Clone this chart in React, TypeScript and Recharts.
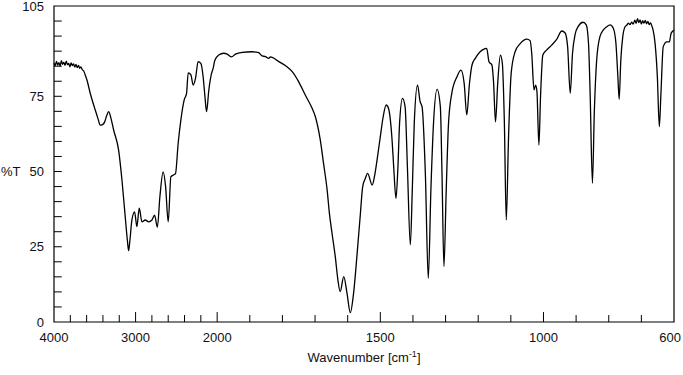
import React from 'react';
import { LineChart, Line, XAxis, YAxis, ReferenceLine, ReferenceArea, Label } from 'recharts';

// spectrum, wavenumber [cm-1] and %T
const wavenumbers = [
  4000, 3985, 3970, 3955, 3940, 3925, 3910, 3895, 3880, 3865, 3850, 3835, 3820, 3805, 3790, 3775,
  3760, 3745, 3730, 3715, 3700, 3685, 3670, 3655, 3636, 3616, 3596, 3556, 3494, 3460, 3433, 3405,
  3379, 3355, 3330, 3300, 3269, 3208, 3167, 3127, 3100, 3085, 3070, 3045, 3012, 2984, 2955, 2922,
  2882, 2840, 2800, 2767, 2733, 2702, 2662, 2632, 2600, 2567, 2539, 2510, 2478, 2445, 2404, 2375,
  2355, 2322, 2294, 2265, 2233, 2200, 2172, 2150, 2130, 2102, 2069, 2049, 2028, 1995, 1980, 1969,
  1956, 1944, 1923, 1893, 1873, 1862, 1852, 1842, 1837, 1811, 1786, 1770, 1750, 1730, 1709, 1699,
  1684, 1674, 1663, 1656, 1648, 1638, 1630, 1623, 1612, 1602, 1592, 1582, 1571, 1561, 1554, 1546,
  1539, 1525, 1518, 1510, 1500, 1492, 1482, 1475, 1464, 1459, 1452, 1446, 1441, 1432, 1424, 1417,
  1408, 1402, 1396, 1386, 1378, 1372, 1362, 1353, 1345, 1337, 1326, 1316, 1311, 1305, 1298, 1291,
  1281, 1265, 1253, 1243, 1235, 1227, 1219, 1209, 1194, 1184, 1174, 1167, 1158, 1153, 1147, 1140,
  1132, 1126, 1120, 1114, 1107, 1099, 1087, 1072, 1051, 1041, 1036, 1029, 1024, 1020, 1014, 1009,
  1002, 990, 975, 959, 944, 934, 926, 918, 911, 903, 893, 879, 869, 862, 857, 850,
  844, 837, 827, 817, 806, 796, 786, 778, 772, 768, 763, 757, 750, 745, 740, 735,
  730, 725, 720, 716, 712, 708, 704, 700, 696, 692, 688, 684, 680, 676, 672, 668,
  664, 658, 651, 645, 640, 633, 622, 614, 609, 600,
];

const transmittance = [
  86, 85.2, 86.6, 85.4, 86.2, 85, 86.8, 85.6, 86.3, 85.3, 86.7, 85.5, 85.9, 84.8, 86.1, 85.2,
  85.8, 84.7, 85.6, 84.5, 85.3, 84.3, 84.8, 83.9, 83.4, 82, 80.4, 76, 70.4, 67.5, 65.4, 65.6,
  66.5, 68.5, 69.9, 67.5, 63.8, 57.1, 47.2, 35, 27, 23.7, 27, 33.9, 36.6, 31.7, 37.8, 33.3,
  33.9, 33.3, 33.9, 35.5, 31.5, 41.6, 49.9, 45, 33.3, 48.3, 48.8, 49.4, 59.4, 67.1, 73.8, 76,
  82.8, 82.1, 78.7, 81, 86.5, 85.9, 81.5, 75, 69.9, 77.1, 82.6, 84.3, 87, 88.7, 89.3, 89,
  88.1, 89, 89.6, 89.8, 89.5, 88.4, 88.2, 87.6, 88.1, 86.5, 84.8, 83.2, 79.8, 75.4, 71, 68.2,
  60.5, 52.7, 43.9, 36.1, 29.5, 21.7, 14, 10.1, 15.1, 9.5, 3.1, 9.5, 22.8, 36.1, 45, 47.7,
  49.4, 45.5, 48.3, 53.8, 61.6, 67.7, 72.1, 71, 60.5, 51.6, 41.1, 51.6, 66, 74.3, 71.5, 51.6,
  25.6, 43.9, 66, 78.7, 73.2, 71.5, 49.4, 14.5, 43.9, 66, 77.3, 71.5, 49.4, 18.4, 43.9, 66,
  76, 81.5, 83.7, 79.3, 68.8, 79, 85.4, 87.6, 89.8, 90.6, 90.9, 86.5, 85.4, 79.8, 66.5, 79.8,
  88.7, 85.9, 67.1, 33.9, 61.6, 82.6, 89.8, 92.4, 94, 93.5, 89.3, 77.1, 78.7, 76.5, 58.8, 74.9,
  88.7, 90.4, 92, 94, 96.7, 96.1, 91.5, 76, 89.3, 95.6, 98.3, 99.6, 98.7, 92.6, 76, 46.1,
  70.4, 87, 94.8, 97, 98.1, 98.7, 97.6, 92.6, 81.5, 74, 87, 94.8, 98.1, 98.6, 99.3, 98.8,
  99.6, 99, 100.3, 99.2, 100.8, 99.5, 100.4, 99, 100.1, 99.3, 100.2, 99.1, 99.9, 98.8, 99.4, 98.4,
  97, 92.6, 81.5, 64.9, 76, 91.5, 93.1, 93.1, 95.9, 97,
];

const xLabelTicks = [4000, 3000, 2000, 1500, 1000, 600];
const xMajorMarks = [3000, 2000, 1500, 1000];
const xMinorMarks = [
  3800, 3600, 3400, 3200, 2800, 2600, 2400, 2200,
  1900, 1800, 1700, 1600, 1400, 1300, 1200, 1100, 900, 800, 700,
];
const yLabelTicks = [0, 25, 50, 75, 105];
const yMarks = [5, 10, 15, 20, 25, 30, 35, 40, 45, 50, 55, 60, 65, 70, 75, 80, 85, 90, 95, 100];

// the axis is stretched 4x below 2000 cm-1
const toPos = (w: number) => (w >= 2000 ? 4000 - w : 2000 + 4 * (2000 - w));
const fromPos = (u: number) => (u <= 2000 ? 4000 - u : 2000 - (u - 2000) / 4);
const X_END = toPos(600);

const data = wavenumbers.map((w, i) => ({ pos: toPos(w), t: transmittance[i] }));

const FONT = '"Liberation Sans", Arial, sans-serif';
const INK = '#111';

const XTick = ({ x, y, payload }: any) => {
  const last = payload.value === X_END;
  return (
    <text
      x={last ? x + 7 : x}
      y={y}
      dy="0.71em"
      textAnchor={last ? 'end' : 'middle'}
      fontFamily={FONT}
      fontSize={13}
      fill={INK}
    >
      {Math.round(fromPos(payload.value))}
    </text>
  );
};

const XTitle = ({ viewBox }: any) => (
  <text
    x={viewBox.x + viewBox.width / 2}
    y={viewBox.y + 40}
    textAnchor="middle"
    fontFamily={FONT}
    fontSize={13}
    fill={INK}
  >
    Wavenumber [cm
    <tspan fontSize={9} dy={-5}>-1</tspan>
    <tspan dy={5}>]</tspan>
  </text>
);

const YTitle = ({ viewBox }: any) => (
  <text
    x={viewBox.x + 1}
    y={viewBox.y + (viewBox.height * 55) / 105}
    dy="0.35em"
    fontFamily={FONT}
    fontSize={13}
    fill={INK}
  >
    %T
  </text>
);

export default function App() {
  return (
    <div style={{ position: 'absolute', left: 0, top: 0, width: 683, height: 375, background: '#fff' }}>
      <LineChart width={683} height={375} data={data} margin={{ top: 6, right: 9, bottom: 0, left: 0 }}>
        <XAxis
          type="number"
          dataKey="pos"
          domain={[0, X_END]}
          ticks={xLabelTicks.map(toPos)}
          interval={0}
          tick={(p: any) => <XTick {...p} />}
          tickLine={false}
          axisLine={false}
          tickSize={0}
          tickMargin={11}
          height={53}
          label={<Label content={XTitle} />}
        />
        <YAxis
          type="number"
          domain={[0, 105]}
          ticks={yLabelTicks}
          interval={0}
          tickLine={false}
          axisLine={false}
          tickSize={0}
          tickMargin={10}
          width={54}
          tick={{ fill: INK, fontSize: 13, fontFamily: FONT }}
          label={<Label content={YTitle} />}
        />
        <ReferenceArea x1={0} x2={X_END} y1={0} y2={105} fill="none" stroke="#000" strokeWidth={1.2} />
        {xMinorMarks.map((w) => (
          <ReferenceLine key={`xm${w}`} segment={[{ x: toPos(w), y: 0 }, { x: toPos(w), y: 2.3 }]} stroke="#000" />
        ))}
        {xMajorMarks.map((w) => (
          <ReferenceLine key={`xM${w}`} segment={[{ x: toPos(w), y: 0 }, { x: toPos(w), y: 3.3 }]} stroke="#000" />
        ))}
        {yMarks.map((v) => (
          <ReferenceLine key={`y${v}`} segment={[{ x: 0, y: v }, { x: 95, y: v }]} stroke="#000" />
        ))}
        <Line
          type="monotoneX"
          dataKey="t"
          stroke="#000"
          strokeWidth={1.3}
          dot={false}
          isAnimationActive={false}
        />
      </LineChart>
    </div>
  );
}
